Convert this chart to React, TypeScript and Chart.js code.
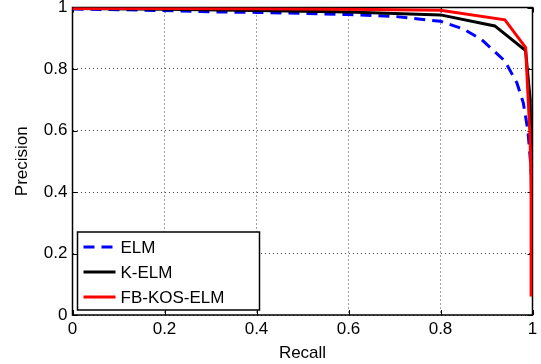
import React, { useEffect, useRef } from "react";
import { Chart, registerables } from "chart.js";

Chart.register(...registerables);

const xTicks = [0, 0.2, 0.4, 0.6, 0.8, 1];
const yTicks = [0, 0.2, 0.4, 0.6, 0.8, 1];

const elmRecall = [0, 0.1, 0.2, 0.3, 0.4, 0.5, 0.6, 0.7, 0.8, 0.85, 0.89, 0.94, 0.966, 0.98, 0.99, 0.995, 0.998];
const elmPrecision = [0.995, 0.993, 0.99, 0.986, 0.984, 0.981, 0.977, 0.971, 0.955, 0.93, 0.895, 0.826, 0.755, 0.69, 0.6, 0.51, 0.45];

const kelmRecall = [0, 0.2, 0.4, 0.6, 0.8, 0.918, 0.985, 0.995, 0.998];
const kelmPrecision = [0.997, 0.994, 0.99, 0.985, 0.976, 0.94, 0.86, 0.7, 0.35];

const fbRecall = [0, 0.2, 0.4, 0.6, 0.8, 0.94, 0.985, 0.994, 0.997, 0.997];
const fbPrecision = [0.997, 0.997, 0.996, 0.994, 0.991, 0.96, 0.87, 0.6, 0.45, 0.06];

const seriesNames = ["ELM", "K-ELM", "FB-KOS-ELM"];

const FONT = "'Liberation Sans', Arial, Helvetica, sans-serif";

const toPts = (xs: number[], ys: number[]) => xs.map((x, i) => ({ x, y: ys[i] }));

const boxPlugin = {
  id: "matlabBox",
  beforeDatasetsDraw(chart: any) {
    const { ctx, chartArea: a, scales } = chart;
    ctx.save();
    ctx.strokeStyle = "#000";
    ctx.lineWidth = 1;
    const tl = 5;
    ctx.beginPath();
    xTicks.forEach((v) => {
      const px = Math.round(scales.x.getPixelForValue(v)) + 0.5;
      ctx.moveTo(px, a.bottom);
      ctx.lineTo(px, a.bottom - tl);
      ctx.moveTo(px, a.top);
      ctx.lineTo(px, a.top + tl);
    });
    yTicks.forEach((v) => {
      const py = Math.round(scales.y.getPixelForValue(v)) + 0.5;
      ctx.moveTo(a.left, py);
      ctx.lineTo(a.left + tl, py);
      ctx.moveTo(a.right, py);
      ctx.lineTo(a.right - tl, py);
    });
    ctx.stroke();
    ctx.lineWidth = 1.5;
    ctx.strokeRect(a.left, a.top, a.right - a.left, a.bottom - a.top);
    ctx.restore();
  },
  afterDraw(chart: any) {
    const { ctx, chartArea: a } = chart;
    const bx = a.left + 5;
    const bw = 182;
    const bh = 78;
    const by = a.bottom - 5 - bh;
    ctx.save();
    ctx.fillStyle = "#fff";
    ctx.fillRect(bx, by, bw, bh);
    ctx.strokeStyle = "#000";
    ctx.lineWidth = 1.5;
    ctx.strokeRect(bx, by, bw, bh);
    ctx.font = `17px ${FONT}`;
    ctx.textBaseline = "middle";
    ctx.textAlign = "left";
    chart.data.datasets.forEach((ds: any, i: number) => {
      const cy = by + 15 + i * 25;
      ctx.beginPath();
      ctx.strokeStyle = ds.borderColor;
      ctx.lineWidth = ds.borderWidth;
      ctx.setLineDash(ds.borderDash || []);
      ctx.moveTo(bx + 6, cy);
      ctx.lineTo(bx + 38, cy);
      ctx.stroke();
      ctx.setLineDash([]);
      ctx.fillStyle = "#000";
      ctx.fillText(ds.label, bx + 43, cy + 1);
    });
    ctx.restore();
  },
};

export default function App() {
  const ref = useRef<HTMLCanvasElement | null>(null);
  useEffect(() => {
    if (!ref.current) return;
    const chart = new Chart(ref.current, {
      type: "line",
      data: {
        datasets: [
          {
            label: seriesNames[0],
            data: toPts(elmRecall, elmPrecision),
            borderColor: "#0000ff",
            borderWidth: 3,
            borderDash: [11, 7],
            pointRadius: 0,
            fill: false,
            tension: 0,
            order: 3,
          },
          {
            label: seriesNames[1],
            data: toPts(kelmRecall, kelmPrecision),
            borderColor: "#000000",
            borderWidth: 3,
            pointRadius: 0,
            fill: false,
            tension: 0,
            order: 2,
          },
          {
            label: seriesNames[2],
            data: toPts(fbRecall, fbPrecision),
            borderColor: "#ff0000",
            borderWidth: 3,
            pointRadius: 0,
            fill: false,
            tension: 0,
            order: 1,
          },
        ],
      },
      options: {
        responsive: false,
        animation: false,
        layout: { padding: { left: 12, right: 8.5, top: 7.5, bottom: 0 } },
        plugins: { legend: { display: false }, tooltip: { enabled: false } },
        scales: {
          x: {
            type: "linear",
            min: 0,
            max: 1,
            afterBuildTicks: (s: any) => {
              s.ticks = xTicks.map((v) => ({ value: v }));
            },
            afterFit: (s: any) => {
              s.height = 49;
              s.paddingLeft = 0;
              s.paddingRight = 0;
            },
            ticks: {
              color: "#000",
              font: { family: FONT, size: 17 },
              padding: 4,
              maxRotation: 0,
              callback: (v: any) => String(v),
            },
            grid: { color: "#444", lineWidth: 1, drawTicks: false },
            border: { display: false, dash: [1, 3] },
            title: {
              display: true,
              text: "Recall",
              color: "#000",
              font: { family: FONT, size: 17 },
              padding: { top: 0, bottom: 0 },
            },
          },
          y: {
            type: "linear",
            min: 0,
            max: 1,
            afterBuildTicks: (s: any) => {
              s.ticks = yTicks.map((v) => ({ value: v }));
            },
            afterFit: (s: any) => {
              s.width = 60.5;
              s.paddingTop = 0;
              s.paddingBottom = 0;
            },
            ticks: {
              color: "#000",
              font: { family: FONT, size: 17 },
              padding: 5,
              callback: (v: any) => String(v),
            },
            grid: { color: "#444", lineWidth: 1, drawTicks: false },
            border: { display: false, dash: [1, 3] },
            title: {
              display: true,
              text: "Precision",
              color: "#000",
              font: { family: FONT, size: 17 },
              padding: { top: 0, bottom: 0 },
            },
          },
        },
      },
      plugins: [boxPlugin],
    } as any);
    return () => chart.destroy();
  }, []);
  return (
    <div style={{ position: "absolute", left: 0, top: 0, width: 541, height: 364, background: "#fff" }}>
      <canvas ref={ref} width={541} height={364} style={{ display: "block" }} />
    </div>
  );
}
